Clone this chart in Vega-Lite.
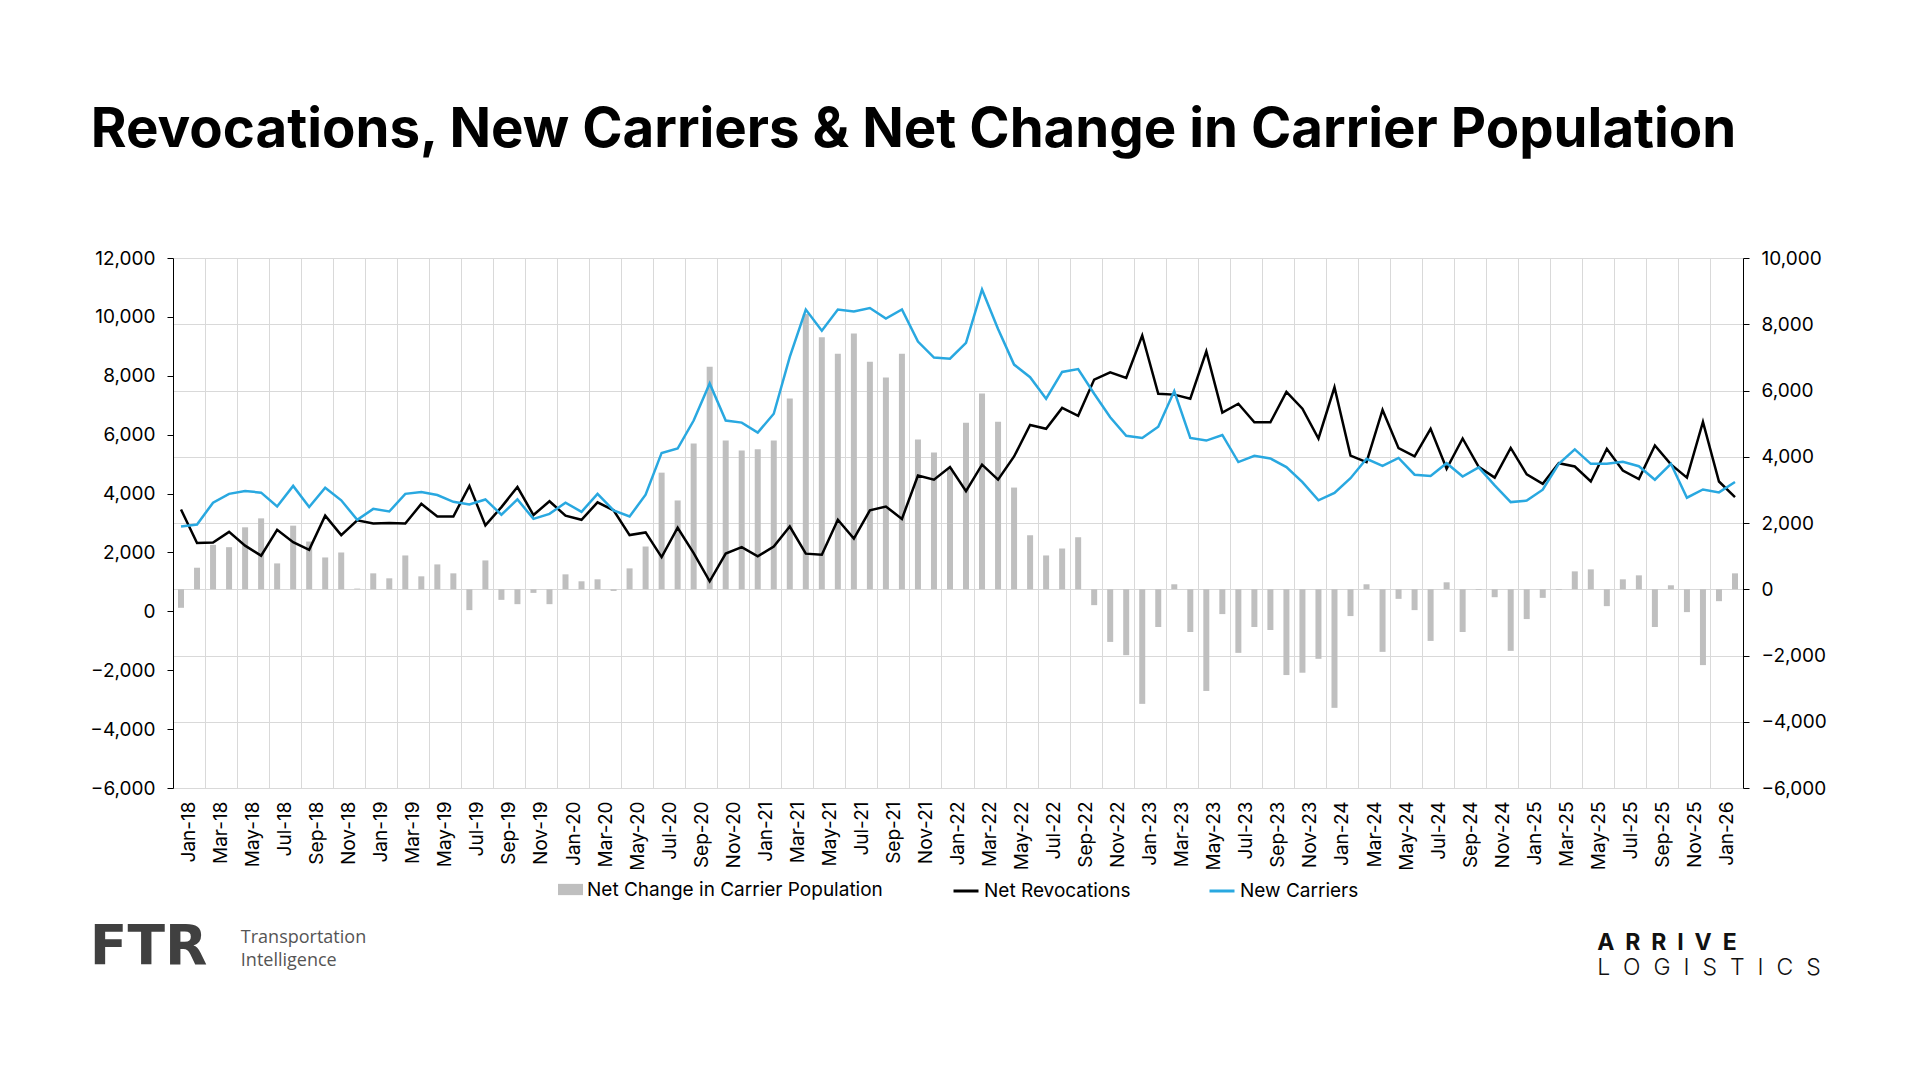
{
  "$schema": "https://vega.github.io/schema/vega-lite/v6.json",
  "background": "white",
  "padding": {"left": 89, "top": 103, "right": 10, "bottom": 10},
  "config": {
    "font": "Inter",
    "view": {"stroke": null},
    "axis": {"labelFont": "Inter", "labelFontSize": 19, "labelColor": "#000000"},
    "legend": {"layout": {"bottom": {"anchor": "middle", "direction": "horizontal", "margin": 69}}}
  },
  "title": {
    "text": "Revocations, New Carriers & Net Change in Carrier Population",
    "anchor": "start",
    "frame": "bounds",
    "dx": 1,
    "font": "Inter",
    "fontSize": 54.6,
    "fontWeight": 700,
    "color": "#000000",
    "offset": 90
  },
  "datasets": {
    "carriers": [
      {"month": "Jan-18", "new_carriers": 2880, "net_revocations": 3460, "net_change": -560},
      {"month": "Feb-18", "new_carriers": 2950, "net_revocations": 2320, "net_change": 650},
      {"month": "Mar-18", "new_carriers": 3690, "net_revocations": 2340, "net_change": 1340},
      {"month": "Apr-18", "new_carriers": 3990, "net_revocations": 2700, "net_change": 1270},
      {"month": "May-18", "new_carriers": 4090, "net_revocations": 2230, "net_change": 1870},
      {"month": "Jun-18", "new_carriers": 4030, "net_revocations": 1890, "net_change": 2140},
      {"month": "Jul-18", "new_carriers": 3560, "net_revocations": 2770, "net_change": 780},
      {"month": "Aug-18", "new_carriers": 4260, "net_revocations": 2350, "net_change": 1920},
      {"month": "Sep-18", "new_carriers": 3540, "net_revocations": 2090, "net_change": 1440},
      {"month": "Oct-18", "new_carriers": 4200, "net_revocations": 3250, "net_change": 960},
      {"month": "Nov-18", "new_carriers": 3770, "net_revocations": 2590, "net_change": 1110},
      {"month": "Dec-18", "new_carriers": 3110, "net_revocations": 3090, "net_change": 20},
      {"month": "Jan-19", "new_carriers": 3480, "net_revocations": 2980, "net_change": 480},
      {"month": "Feb-19", "new_carriers": 3390, "net_revocations": 3000, "net_change": 330},
      {"month": "Mar-19", "new_carriers": 3990, "net_revocations": 2980, "net_change": 1020},
      {"month": "Apr-19", "new_carriers": 4050, "net_revocations": 3650, "net_change": 390},
      {"month": "May-19", "new_carriers": 3950, "net_revocations": 3220, "net_change": 750},
      {"month": "Jun-19", "new_carriers": 3720, "net_revocations": 3220, "net_change": 480},
      {"month": "Jul-19", "new_carriers": 3630, "net_revocations": 4260, "net_change": -630},
      {"month": "Aug-19", "new_carriers": 3800, "net_revocations": 2920, "net_change": 870},
      {"month": "Sep-19", "new_carriers": 3280, "net_revocations": 3540, "net_change": -320},
      {"month": "Oct-19", "new_carriers": 3800, "net_revocations": 4220, "net_change": -450},
      {"month": "Nov-19", "new_carriers": 3140, "net_revocations": 3270, "net_change": -110},
      {"month": "Dec-19", "new_carriers": 3310, "net_revocations": 3740, "net_change": -450},
      {"month": "Jan-20", "new_carriers": 3690, "net_revocations": 3250, "net_change": 450},
      {"month": "Feb-20", "new_carriers": 3380, "net_revocations": 3110, "net_change": 240},
      {"month": "Mar-20", "new_carriers": 3990, "net_revocations": 3700, "net_change": 300},
      {"month": "Apr-20", "new_carriers": 3430, "net_revocations": 3430, "net_change": -50},
      {"month": "May-20", "new_carriers": 3220, "net_revocations": 2590, "net_change": 630},
      {"month": "Jun-20", "new_carriers": 3960, "net_revocations": 2680, "net_change": 1290},
      {"month": "Jul-20", "new_carriers": 5380, "net_revocations": 1840, "net_change": 3520},
      {"month": "Aug-20", "new_carriers": 5530, "net_revocations": 2840, "net_change": 2680},
      {"month": "Sep-20", "new_carriers": 6480, "net_revocations": 1980, "net_change": 4400},
      {"month": "Oct-20", "new_carriers": 7740, "net_revocations": 1020, "net_change": 6720},
      {"month": "Nov-20", "new_carriers": 6480, "net_revocations": 1960, "net_change": 4490},
      {"month": "Dec-20", "new_carriers": 6410, "net_revocations": 2180, "net_change": 4190},
      {"month": "Jan-21", "new_carriers": 6070, "net_revocations": 1870, "net_change": 4230},
      {"month": "Feb-21", "new_carriers": 6710, "net_revocations": 2200, "net_change": 4490},
      {"month": "Mar-21", "new_carriers": 8640, "net_revocations": 2880, "net_change": 5760},
      {"month": "Apr-21", "new_carriers": 10250, "net_revocations": 1960, "net_change": 8310},
      {"month": "May-21", "new_carriers": 9530, "net_revocations": 1920, "net_change": 7610},
      {"month": "Jun-21", "new_carriers": 10250, "net_revocations": 3110, "net_change": 7110},
      {"month": "Jul-21", "new_carriers": 10180, "net_revocations": 2470, "net_change": 7720},
      {"month": "Aug-21", "new_carriers": 10300, "net_revocations": 3430, "net_change": 6870},
      {"month": "Sep-21", "new_carriers": 9940, "net_revocations": 3560, "net_change": 6390},
      {"month": "Oct-21", "new_carriers": 10250, "net_revocations": 3140, "net_change": 7110},
      {"month": "Nov-21", "new_carriers": 9160, "net_revocations": 4610, "net_change": 4520},
      {"month": "Dec-21", "new_carriers": 8620, "net_revocations": 4470, "net_change": 4130},
      {"month": "Jan-22", "new_carriers": 8580, "net_revocations": 4900, "net_change": 3650},
      {"month": "Feb-22", "new_carriers": 9120, "net_revocations": 4080, "net_change": 5030},
      {"month": "Mar-22", "new_carriers": 10930, "net_revocations": 4980, "net_change": 5910},
      {"month": "Apr-22", "new_carriers": 9590, "net_revocations": 4470, "net_change": 5060},
      {"month": "May-22", "new_carriers": 8380, "net_revocations": 5260, "net_change": 3070},
      {"month": "Jun-22", "new_carriers": 7950, "net_revocations": 6330, "net_change": 1630},
      {"month": "Jul-22", "new_carriers": 7220, "net_revocations": 6200, "net_change": 1020},
      {"month": "Aug-22", "new_carriers": 8130, "net_revocations": 6910, "net_change": 1230},
      {"month": "Sep-22", "new_carriers": 8230, "net_revocations": 6640, "net_change": 1570},
      {"month": "Oct-22", "new_carriers": 7390, "net_revocations": 7870, "net_change": -480},
      {"month": "Nov-22", "new_carriers": 6590, "net_revocations": 8120, "net_change": -1590},
      {"month": "Dec-22", "new_carriers": 5960, "net_revocations": 7930, "net_change": -1990},
      {"month": "Jan-23", "new_carriers": 5890, "net_revocations": 9370, "net_change": -3460},
      {"month": "Feb-23", "new_carriers": 6270, "net_revocations": 7390, "net_change": -1140},
      {"month": "Mar-23", "new_carriers": 7480, "net_revocations": 7360, "net_change": 150},
      {"month": "Apr-23", "new_carriers": 5890, "net_revocations": 7220, "net_change": -1290},
      {"month": "May-23", "new_carriers": 5800, "net_revocations": 8830, "net_change": -3070},
      {"month": "Jun-23", "new_carriers": 5990, "net_revocations": 6750, "net_change": -750},
      {"month": "Jul-23", "new_carriers": 5070, "net_revocations": 7050, "net_change": -1920},
      {"month": "Aug-23", "new_carriers": 5280, "net_revocations": 6420, "net_change": -1140},
      {"month": "Sep-23", "new_carriers": 5190, "net_revocations": 6420, "net_change": -1230},
      {"month": "Oct-23", "new_carriers": 4900, "net_revocations": 7450, "net_change": -2590},
      {"month": "Nov-23", "new_carriers": 4390, "net_revocations": 6880, "net_change": -2520},
      {"month": "Dec-23", "new_carriers": 3770, "net_revocations": 5870, "net_change": -2100},
      {"month": "Jan-24", "new_carriers": 4020, "net_revocations": 7610, "net_change": -3580},
      {"month": "Feb-24", "new_carriers": 4520, "net_revocations": 5290, "net_change": -810},
      {"month": "Mar-24", "new_carriers": 5180, "net_revocations": 5070, "net_change": 150},
      {"month": "Apr-24", "new_carriers": 4940, "net_revocations": 6840, "net_change": -1890},
      {"month": "May-24", "new_carriers": 5210, "net_revocations": 5540, "net_change": -290},
      {"month": "Jun-24", "new_carriers": 4640, "net_revocations": 5260, "net_change": -630},
      {"month": "Jul-24", "new_carriers": 4600, "net_revocations": 6200, "net_change": -1560},
      {"month": "Aug-24", "new_carriers": 5030, "net_revocations": 4840, "net_change": 210},
      {"month": "Sep-24", "new_carriers": 4580, "net_revocations": 5870, "net_change": -1290},
      {"month": "Oct-24", "new_carriers": 4890, "net_revocations": 4910, "net_change": -20},
      {"month": "Nov-24", "new_carriers": 4280, "net_revocations": 4540, "net_change": -240},
      {"month": "Dec-24", "new_carriers": 3710, "net_revocations": 5550, "net_change": -1860},
      {"month": "Jan-25", "new_carriers": 3760, "net_revocations": 4650, "net_change": -900},
      {"month": "Feb-25", "new_carriers": 4130, "net_revocations": 4330, "net_change": -260},
      {"month": "Mar-25", "new_carriers": 5010, "net_revocations": 5030, "net_change": -20},
      {"month": "Apr-25", "new_carriers": 5500, "net_revocations": 4920, "net_change": 540},
      {"month": "May-25", "new_carriers": 5010, "net_revocations": 4410, "net_change": 600},
      {"month": "Jun-25", "new_carriers": 5010, "net_revocations": 5520, "net_change": -510},
      {"month": "Jul-25", "new_carriers": 5080, "net_revocations": 4780, "net_change": 300},
      {"month": "Aug-25", "new_carriers": 4930, "net_revocations": 4490, "net_change": 420},
      {"month": "Sep-25", "new_carriers": 4470, "net_revocations": 5630, "net_change": -1140},
      {"month": "Oct-25", "new_carriers": 5010, "net_revocations": 4990, "net_change": 120},
      {"month": "Nov-25", "new_carriers": 3860, "net_revocations": 4540, "net_change": -690},
      {"month": "Dec-25", "new_carriers": 4140, "net_revocations": 6430, "net_change": -2290},
      {"month": "Jan-26", "new_carriers": 4040, "net_revocations": 4410, "net_change": -360},
      {"month": "Feb-26", "new_carriers": 4390, "net_revocations": 3880, "net_change": 480}
    ]
  },
  "resolve": {"scale": {"fill": "independent", "stroke": "independent"}},
  "vconcat": [
    {
      "title": {
        "text": "A\u00a0\u00a0R\u00a0\u00a0R\u00a0\u00a0I\u00a0\u00a0V\u00a0\u00a0E",
        "subtitle": "L\u00a0\u00a0O\u00a0\u00a0G\u00a0\u00a0I\u00a0\u00a0S\u00a0\u00a0T\u00a0\u00a0I\u00a0\u00a0C\u00a0\u00a0S",
        "orient": "bottom",
        "anchor": "end",
        "frame": "bounds",
        "align": "left",
        "dx": -229,
        "offset": -43,
        "font": "Inter",
        "fontSize": 23,
        "fontWeight": 700,
        "color": "#111111",
        "subtitleFont": "Inter",
        "subtitleFontSize": 23,
        "subtitleFontWeight": 300,
        "subtitleColor": "#111111",
        "subtitlePadding": 2
      },
      "resolve": {"scale": {"fill": "independent", "stroke": "independent"}},
      "vconcat": [
        {
          "title": {
            "text": "Transportation",
            "subtitle": "Intelligence",
            "orient": "bottom",
            "anchor": "start",
            "frame": "bounds",
            "dx": 151,
            "offset": -46,
            "font": "Open Sans",
            "fontSize": 18,
            "fontWeight": 400,
            "color": "#555555",
            "subtitleFont": "Open Sans",
            "subtitleFontSize": 18,
            "subtitleColor": "#555555",
            "subtitlePadding": 5
          },
          "resolve": {"scale": {"fill": "independent", "stroke": "independent"}},
          "vconcat": [
            {
              "title": {
                "text": "FTR",
                "orient": "bottom",
                "anchor": "start",
                "frame": "bounds",
                "offset": 20,
                "font": "DejaVu Sans",
                "fontSize": 55,
                "fontWeight": 700,
                "color": "#404040"
              },
              "width": 1570,
              "height": 530,
              "data": {"name": "carriers"},
              "encoding": {
                "x": {
                  "field": "month",
                  "type": "ordinal",
                  "sort": null,
                  "scale": {"paddingInner": 0, "paddingOuter": 0},
                  "axis": {
                    "title": null,
                    "values": ["Jan-18", "Mar-18", "May-18", "Jul-18", "Sep-18", "Nov-18",
                               "Jan-19", "Mar-19", "May-19", "Jul-19", "Sep-19", "Nov-19",
                               "Jan-20", "Mar-20", "May-20", "Jul-20", "Sep-20", "Nov-20",
                               "Jan-21", "Mar-21", "May-21", "Jul-21", "Sep-21", "Nov-21",
                               "Jan-22", "Mar-22", "May-22", "Jul-22", "Sep-22", "Nov-22",
                               "Jan-23", "Mar-23", "May-23", "Jul-23", "Sep-23", "Nov-23",
                               "Jan-24", "Mar-24", "May-24", "Jul-24", "Sep-24", "Nov-24",
                               "Jan-25", "Mar-25", "May-25", "Jul-25", "Sep-25", "Nov-25",
                               "Jan-26"],
                    "labelAngle": -90,
                    "labelAlign": "right",
                    "labelBaseline": "middle",
                    "labelPadding": 13,
                    "labelOffset": 8,
                    "bandPosition": 0,
                    "ticks": false,
                    "domain": false,
                    "grid": true,
                    "gridColor": "#d9d9d9",
                    "gridWidth": 1
                  }
                }
              },
              "layer": [
                {
                  "mark": {"type": "bar", "width": 6},
                  "encoding": {
                    "y": {
                      "field": "net_change",
                      "type": "quantitative",
                      "scale": {"domain": [-6000, 10000], "nice": false, "zero": false},
                      "axis": {
                        "orient": "right",
                        "title": null,
                        "values": [-6000, -4000, -2000, 0, 2000, 4000, 6000, 8000, 10000],
                        "format": ",.0f",
                        "grid": true,
                        "gridColor": "#d9d9d9",
                        "domainColor": "#000000",
                        "tickColor": "#000000",
                        "tickSize": 6,
                        "labelPadding": 12
                      }
                    },
                    "fill": {
                      "datum": "Net Change in Carrier Population",
                      "type": "nominal",
                      "scale": {"range": ["#bfbfbf"]},
                      "legend": {
                        "orient": "bottom",
                        "direction": "horizontal",
                        "title": null,
                        "offset": 6,
                        "padding": 0,
                        "symbolType": "M-1,-0.45H1V0.45H-1Z",
                        "symbolSize": 625,
                        "symbolStrokeWidth": 0,
                        "labelFont": "Inter",
                        "labelFontSize": 19,
                        "labelColor": "#000000",
                        "labelOffset": 4,
                        "labelLimit": 0
                      }
                    }
                  }
                },
                {
                  "mark": {"type": "line", "strokeWidth": 2.5},
                  "encoding": {
                    "y": {
                      "field": "net_revocations",
                      "type": "quantitative",
                      "scale": {"domain": [-6000, 12000], "nice": false, "zero": false},
                      "axis": {
                        "orient": "left",
                        "title": null,
                        "values": [-6000, -4000, -2000, 0, 2000, 4000, 6000, 8000, 10000, 12000],
                        "format": ",.0f",
                        "grid": false,
                        "domainColor": "#000000",
                        "tickColor": "#000000",
                        "tickSize": 6,
                        "labelPadding": 12
                      }
                    },
                    "stroke": {
                      "datum": "Net Revocations",
                      "type": "nominal",
                      "scale": {"domain": ["Net Revocations", "New Carriers"], "range": ["#000000", "#29a8e0"]},
                      "legend": {
                        "orient": "bottom",
                        "direction": "horizontal",
                        "title": null,
                        "offset": 6,
                        "padding": 0,
                        "symbolType": "stroke",
                        "symbolSize": 625,
                        "symbolStrokeWidth": 3,
                        "columnPadding": 72,
                        "labelFont": "Inter",
                        "labelFontSize": 19,
                        "labelColor": "#000000",
                        "labelOffset": 4,
                        "labelLimit": 0
                      }
                    }
                  }
                },
                {
                  "mark": {"type": "line", "strokeWidth": 2.5},
                  "encoding": {
                    "y": {
                      "field": "new_carriers",
                      "type": "quantitative",
                      "scale": {"domain": [-6000, 12000], "nice": false, "zero": false},
                      "axis": null
                    },
                    "stroke": {"datum": "New Carriers", "type": "nominal"}
                  }
                }
              ],
              "resolve": {"scale": {"y": "independent"}}
            }
          ]
        }
      ]
    }
  ]
}
